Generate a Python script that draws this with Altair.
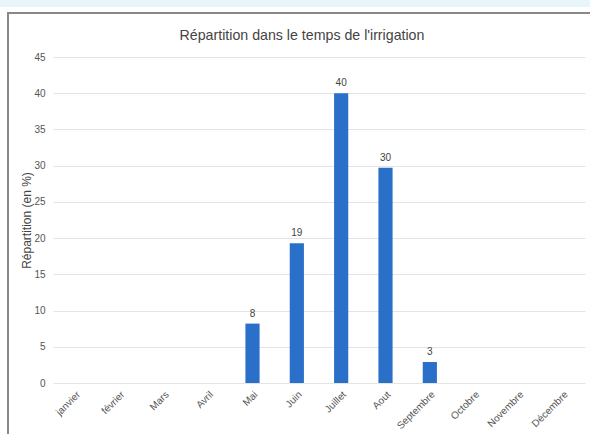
import altair as alt
import pandas as pd

months = ["janvier", "février", "Mars", "Avril", "Mai", "Juin", "Juillet",
          "Aout", "Septembre", "Octobre", "Novembre", "Décembre"]
values = [None, None, None, None, 8.2, 19.3, 40.0, 29.7, 2.9, None, None, None]
title_text = "Répartition dans le temps de l'irrigation"
y_title = "Répartition (en %)"
y_ticks = [0, 5, 10, 15, 20, 25, 30, 35, 40, 45]

df = pd.DataFrame({"mois": months, "val": values})
FONT = "Liberation Sans"
W, H = 532, 326

xenc = alt.X("mois:N", sort=months, title=None,
             scale=alt.Scale(paddingInner=0.68, paddingOuter=0.34),
             axis=alt.Axis(labelAngle=-45, labelFontSize=10, labelColor="#555",
                           labelFont=FONT, ticks=False, domain=False,
                           labelPadding=6, grid=False))
yenc = alt.Y("val:Q", title=y_title,
             scale=alt.Scale(domain=[0, 45], nice=False),
             axis=alt.Axis(values=y_ticks, labelFontSize=10, labelColor="#555",
                           labelFont=FONT, ticks=False, domain=False,
                           labelPadding=8, gridColor="#e4e4e4",
                           labelOverlap=False,
                           titleFont=FONT, titleFontSize=12, titleColor="#444",
                           titleFontWeight="normal", titlePadding=0))

bars = alt.Chart(df).mark_bar(color="#2b70c8").encode(x=xenc, y=yenc)
labels = alt.Chart(df).transform_filter("datum.val != null").mark_text(
    baseline="bottom", dy=-5, fontSize=10, color="#444", font=FONT
).encode(x=xenc, y=yenc,
         text=alt.Text("val:Q", format=".0f"))

deco = pd.DataFrame({"k": [1]})
band = alt.Chart(deco).mark_rect(color="#e8f6f9").encode(
    x=alt.value(-53), x2=alt.value(W + 5), y=alt.value(-57), y2=alt.value(-50))
border_left = alt.Chart(deco).mark_rule(color="#888", strokeWidth=2).encode(
    x=alt.value(-45), y=alt.value(-44), y2=alt.value(H + 51))
border_top = alt.Chart(deco).mark_rule(color="#888", strokeWidth=2).encode(
    x=alt.value(-46), x2=alt.value(W + 5), y=alt.value(-44))
title = alt.Chart(pd.DataFrame({"t": [title_text]})).mark_text(
    fontSize=14.2, color="#444", font=FONT, baseline="middle", align="center"
).encode(text="t:N", x=alt.value(249), y=alt.value(-21))

chart = alt.layer(band, border_left, border_top, bars, labels, title).properties(
    width=W, height=H,
    autosize=alt.AutoSizeParams(type="none"),
    padding={"left": 53, "top": 57, "right": 5, "bottom": 51},
    background="white",
).configure_view(stroke=None)

chart.save("out.html", embed_options={"renderer": "svg", "actions": False})
